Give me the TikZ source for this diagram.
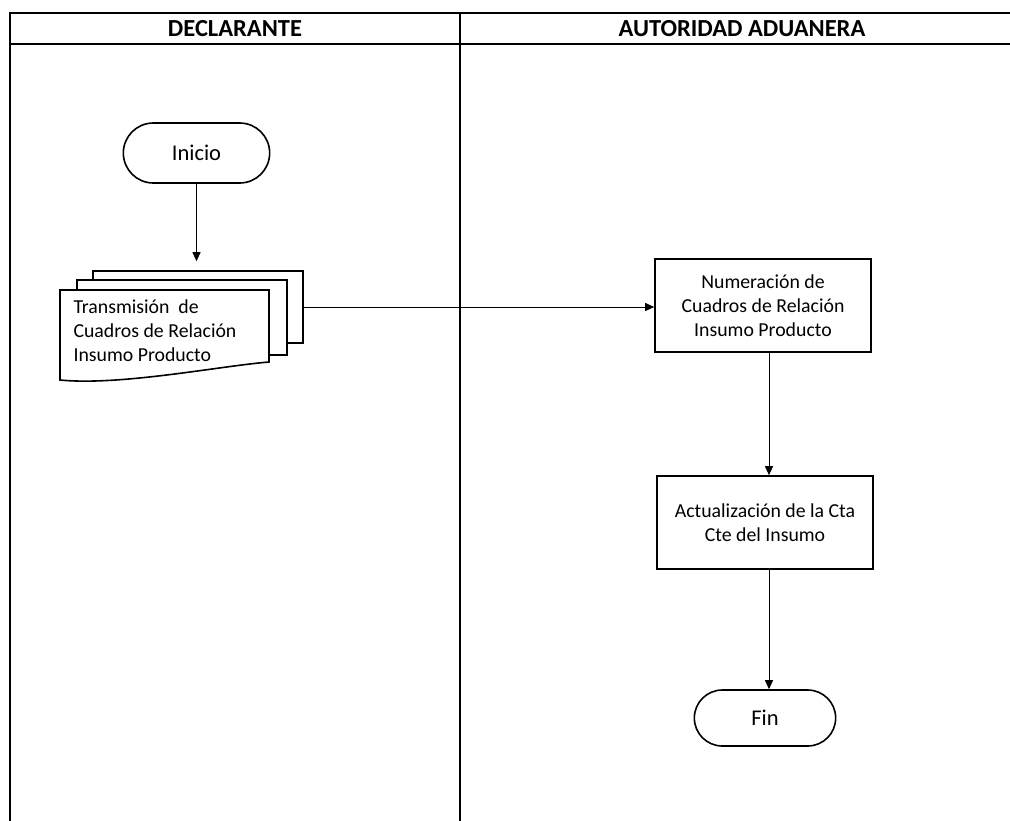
\documentclass[tikz,border=0pt]{standalone}
\usepackage{fontspec}
\setmainfont{Carlito}
\usetikzlibrary{arrows.meta,shapes.misc}
\begin{document}
\begin{tikzpicture}[x=1pt,y=-1pt,
  lane/.style={line width=2pt},
  hdr/.style={font=\fontsize{24.5}{28}\selectfont\bfseries},
  term/.style={draw, line width=1.6pt, rounded rectangle, minimum width=153pt, minimum height=60pt, font=\fontsize{22.5}{26}\selectfont},
  proc/.style={draw, line width=1.6pt, minimum width=216pt, minimum height=93pt, align=center, font=\fontsize{19.8}{24}\selectfont},
  sheet/.style={draw, fill=white, line width=1.6pt, inner sep=0pt},
  arr/.style={line width=1pt, -{Triangle[length=9pt,width=8pt]}},
]
\useasboundingbox (0,0) rectangle (1010,820);
% lanes
\draw[lane] (1012,13) -- (10,13) -- (10,822);
\draw[lane] (10,44) -- (1012,44);
\draw[lane] (460,13) -- (460,822);
\node[hdr] (h1) at (235,29) {DECLARANTE};
\node[hdr] (h2) at (742,29) {AUTORIDAD ADUANERA};
% nodes
\node[term] (ini) at (196.5,153) {Inicio};
\node[sheet, minimum width=210pt, minimum height=72pt] (back) at (198,307) {};
\node[sheet, minimum width=210pt, minimum height=75pt] (mid) at (182,317.5) {};
\draw[line width=1.6pt, fill=white] (60,290) -- (269,290) -- (269,362)
   .. controls (220,366) and (120,386) .. (60,380) -- cycle;
\node[anchor=west, align=left, font=\fontsize{19.8}{24}\selectfont] (doc) at (70,331)
   {Transmisión\ \ de\\Cuadros de Relación\\Insumo Producto};
\node[proc] (num) at (763,305.5) {Numeración de\\Cuadros de Relación\\Insumo Producto};
\node[proc] (act) at (765,522.5) {Actualización de la Cta\\Cte del Insumo};
\node[term, minimum width=148pt, minimum height=56pt] (fin) at (765,718) {Fin};
% connectors
\draw[arr, shorten >=9pt] (ini.south) -- (ini.south |- back.north);
\draw[arr] (back.east) -- (back.east -| num.west);
\draw[arr] ([xshift=6pt]num.south) -- ([xshift=6pt]num.south |- act.north);
\draw[arr] ([xshift=4pt]act.south) -- ([xshift=4pt]act.south |- fin.north);
\end{tikzpicture}
\end{document}
